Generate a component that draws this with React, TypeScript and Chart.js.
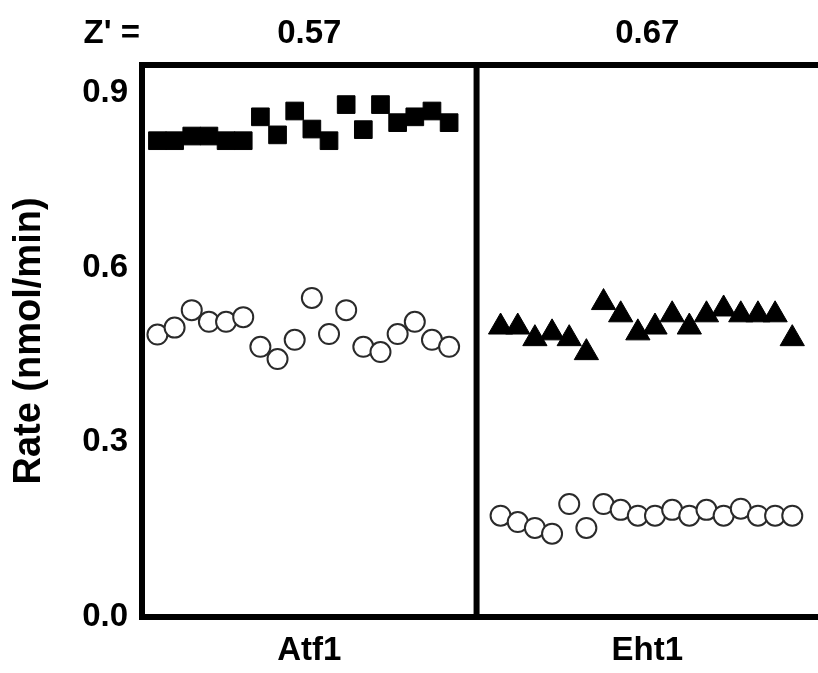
import React, { useEffect, useRef } from "react";
import { Chart, registerables } from "chart.js";

Chart.register(...registerables);

const groupLabels = ["Atf1", "Eht1"];
const zPrimeLabel = "Z' =";
const zPrimeValues = ["0.57", "0.67"];
const yTickValues = [0.0, 0.3, 0.6, 0.9];
const yMin = 0;
const yMax = 0.948;
const xMin = 0.1;
const xMax = 39.5;
const dividerX = 19.6;

const atf1X = [1, 2, 3, 4, 5, 6, 7, 8, 9, 10, 11, 12, 13, 14, 15, 16, 17, 18];
const eht1X = [21, 22, 23, 24, 25, 26, 27, 28, 29, 30, 31, 32, 33, 34, 35, 36, 37, 38];

const atf1Positive = [0.818, 0.818, 0.826, 0.826, 0.818, 0.818, 0.859, 0.828, 0.869, 0.838, 0.818, 0.88, 0.837, 0.88, 0.849, 0.859, 0.869, 0.849];
const atf1Negative = [0.485, 0.497, 0.527, 0.507, 0.507, 0.515, 0.464, 0.443, 0.476, 0.548, 0.486, 0.527, 0.464, 0.455, 0.486, 0.507, 0.476, 0.464];
const eht1Positive = [0.498, 0.498, 0.478, 0.488, 0.478, 0.454, 0.54, 0.519, 0.488, 0.498, 0.519, 0.498, 0.519, 0.529, 0.519, 0.519, 0.519, 0.478];
const eht1Negative = [0.174, 0.163, 0.153, 0.143, 0.194, 0.153, 0.194, 0.184, 0.174, 0.174, 0.184, 0.174, 0.184, 0.174, 0.186, 0.174, 0.174, 0.174];

const FONT = "'Liberation Sans', Arial, Helvetica, sans-serif";

const toPoints = (xs: number[], ys: number[]) => xs.map((x, i) => ({ x, y: ys[i] }));

export default function App() {
  const ref = useRef<HTMLCanvasElement | null>(null);

  useEffect(() => {
    if (!ref.current) return;
    const panelCenters = [(xMin + dividerX) / 2, (dividerX + xMax) / 2];

    const framePlugin = {
      id: "frame",
      afterDraw(chart: any) {
        const { ctx, chartArea } = chart;
        const xs = chart.scales.x;
        const { left, right, top, bottom } = chartArea;
        ctx.save();
        ctx.strokeStyle = "#000";
        ctx.lineWidth = 6;
        ctx.lineJoin = "miter";
        ctx.beginPath();
        ctx.moveTo(right + 10, top);
        ctx.lineTo(left, top);
        ctx.lineTo(left, bottom);
        ctx.lineTo(right + 10, bottom);
        ctx.stroke();
        const dx = xs.getPixelForValue(dividerX);
        ctx.beginPath();
        ctx.moveTo(dx, top);
        ctx.lineTo(dx, bottom);
        ctx.stroke();

        ctx.fillStyle = "#000";
        ctx.font = `bold 33px ${FONT}`;
        ctx.textBaseline = "middle";
        ctx.textAlign = "right";
        ctx.fillText(zPrimeLabel, left - 2, 34);
        ctx.textAlign = "center";
        zPrimeValues.forEach((v, i) => {
          ctx.fillText(v, xs.getPixelForValue(panelCenters[i]), 34);
        });
        ctx.restore();
      },
    };

    const chart = new Chart(ref.current, {
      type: "scatter",
      data: {
        datasets: [
          {
            label: "Atf1 positive",
            data: toPoints(atf1X, atf1Positive),
            pointStyle: "rect",
            pointRadius: 12.5,
            pointBackgroundColor: "#000",
            pointBorderColor: "#000",
            pointBorderWidth: 1,
          },
          {
            label: "Atf1 negative",
            data: toPoints(atf1X, atf1Negative),
            pointStyle: "circle",
            pointRadius: 10,
            pointBackgroundColor: "#fff",
            pointBorderColor: "#2a2a2a",
            pointBorderWidth: 2,
          },
          {
            label: "Eht1 positive",
            data: toPoints(eht1X, eht1Positive),
            pointStyle: "triangle",
            pointRadius: 14,
            pointBackgroundColor: "#000",
            pointBorderColor: "#000",
            pointBorderWidth: 1,
          },
          {
            label: "Eht1 negative",
            data: toPoints(eht1X, eht1Negative),
            pointStyle: "circle",
            pointRadius: 10,
            pointBackgroundColor: "#fff",
            pointBorderColor: "#2a2a2a",
            pointBorderWidth: 2,
          },
        ],
      },
      options: {
        responsive: false,
        animation: false,
        layout: { autoPadding: false, padding: { top: 65, left: 0, right: 0, bottom: 0 } },
        plugins: {
          legend: { display: false },
          tooltip: { enabled: false },
        },
        scales: {
          x: {
            type: "linear",
            min: xMin,
            max: xMax,
            grid: { display: false, drawTicks: false },
            border: { display: false },
            afterBuildTicks: (scale: any) => {
              scale.ticks = panelCenters.map((v) => ({ value: v }));
            },
            afterFit: (scale: any) => {
              scale.height = 56;
              scale.paddingLeft = 0;
              scale.paddingRight = 0;
            },
            ticks: {
              padding: 14,
              color: "#000",
              font: { family: FONT, size: 33, weight: "bold" },
              callback: (_v: any, i: number) => groupLabels[i],
              maxRotation: 0,
            },
          },
          y: {
            type: "linear",
            min: yMin,
            max: yMax,
            grid: { display: false, drawTicks: false },
            border: { display: false },
            afterBuildTicks: (scale: any) => {
              scale.ticks = yTickValues.map((v) => ({ value: v }));
            },
            afterFit: (scale: any) => {
              scale.width = 142;
            },
            ticks: {
              padding: 14,
              color: "#000",
              font: { family: FONT, size: 33, weight: "bold" },
              callback: (v: any) => Number(v).toFixed(1),
            },
            title: {
              display: true,
              text: "Rate (nmol/min)",
              color: "#000",
              font: { family: FONT, size: 38, weight: "bold" },
              padding: { top: 7, bottom: 0 },
            },
          },
        },
      },
      plugins: [framePlugin],
    } as any);

    return () => chart.destroy();
  }, []);

  return (
    <div style={{ position: "absolute", left: 0, top: 0, width: 818, height: 673, background: "#fff" }}>
      <canvas ref={ref} width={818} height={673} style={{ display: "block" }} />
    </div>
  );
}
